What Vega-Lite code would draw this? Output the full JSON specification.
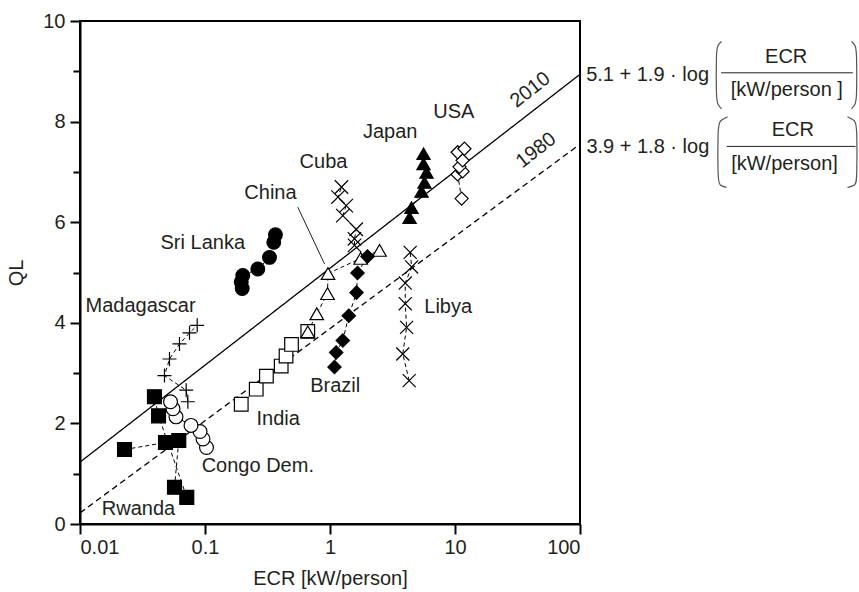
{
  "$schema": "https://vega.github.io/schema/vega-lite/v6.json",
  "width": 500,
  "height": 503,
  "autosize": {"type": "none"},
  "padding": {"left": 80, "top": 21, "right": 279, "bottom": 68},
  "background": "white",
  "config": {
    "font": "Liberation Sans",
    "view": {"stroke": "black", "strokeWidth": 2},
    "axis": {
      "grid": false,
      "domainColor": "black",
      "domainWidth": 2,
      "tickColor": "black",
      "tickWidth": 2,
      "labelColor": "#231f20",
      "labelFontSize": 20,
      "titleFontSize": 20,
      "titleFontWeight": "normal",
      "titleColor": "#231f20",
      "labelFont": "Liberation Sans",
      "titleFont": "Liberation Sans"
    },
    "text": {"font": "Liberation Sans", "fontSize": 20, "color": "#231f20"}
  },
  "datasets": {
    "reg": [
      {"line": "2010", "ecr": 0.01, "ql": 1.23},
      {"line": "2010", "ecr": 100, "ql": 8.94},
      {"line": "1980", "ecr": 0.01, "ql": 0.22},
      {"line": "1980", "ecr": 100, "ql": 7.55}
    ],
    "series": [
      {"country": "Madagascar", "t": 1, "ecr": 0.0729, "ql": 2.43},
      {"country": "Madagascar", "t": 2, "ecr": 0.0707, "ql": 2.66},
      {"country": "Madagascar", "t": 3, "ecr": 0.0474, "ql": 2.95},
      {"country": "Madagascar", "t": 4, "ecr": 0.052, "ql": 3.28},
      {"country": "Madagascar", "t": 5, "ecr": 0.0625, "ql": 3.58},
      {"country": "Madagascar", "t": 6, "ecr": 0.0752, "ql": 3.8},
      {"country": "Madagascar", "t": 7, "ecr": 0.0866, "ql": 3.95},
      {"country": "Rwanda", "t": 1, "ecr": 0.0227, "ql": 1.48},
      {"country": "Rwanda", "t": 2, "ecr": 0.0483, "ql": 1.62},
      {"country": "Rwanda", "t": 3, "ecr": 0.0617, "ql": 1.66},
      {"country": "Rwanda", "t": 4, "ecr": 0.057, "ql": 0.73},
      {"country": "Rwanda", "t": 5, "ecr": 0.0715, "ql": 0.53},
      {"country": "Rwanda", "t": 6, "ecr": 0.0425, "ql": 2.15},
      {"country": "Rwanda", "t": 7, "ecr": 0.0394, "ql": 2.53},
      {"country": "Congo Dem.", "t": 1, "ecr": 0.1028, "ql": 1.52},
      {"country": "Congo Dem.", "t": 2, "ecr": 0.0964, "ql": 1.69},
      {"country": "Congo Dem.", "t": 3, "ecr": 0.0912, "ql": 1.84},
      {"country": "Congo Dem.", "t": 4, "ecr": 0.0773, "ql": 1.96},
      {"country": "Congo Dem.", "t": 5, "ecr": 0.0586, "ql": 2.13},
      {"country": "Congo Dem.", "t": 6, "ecr": 0.0555, "ql": 2.29},
      {"country": "Congo Dem.", "t": 7, "ecr": 0.053, "ql": 2.43},
      {"country": "Sri Lanka", "t": 1, "ecr": 0.1985, "ql": 4.68},
      {"country": "Sri Lanka", "t": 2, "ecr": 0.195, "ql": 4.81},
      {"country": "Sri Lanka", "t": 3, "ecr": 0.2006, "ql": 4.94},
      {"country": "Sri Lanka", "t": 4, "ecr": 0.2645, "ql": 5.07},
      {"country": "Sri Lanka", "t": 5, "ecr": 0.328, "ql": 5.3},
      {"country": "Sri Lanka", "t": 6, "ecr": 0.355, "ql": 5.6},
      {"country": "Sri Lanka", "t": 7, "ecr": 0.366, "ql": 5.75},
      {"country": "India", "t": 1, "ecr": 0.195, "ql": 2.38},
      {"country": "India", "t": 2, "ecr": 0.257, "ql": 2.68},
      {"country": "India", "t": 3, "ecr": 0.31, "ql": 2.94},
      {"country": "India", "t": 4, "ecr": 0.407, "ql": 3.14},
      {"country": "India", "t": 5, "ecr": 0.445, "ql": 3.34},
      {"country": "India", "t": 6, "ecr": 0.492, "ql": 3.57},
      {"country": "India", "t": 7, "ecr": 0.664, "ql": 3.83},
      {"country": "China", "t": 1, "ecr": 0.664, "ql": 3.82},
      {"country": "China", "t": 2, "ecr": 0.784, "ql": 4.18},
      {"country": "China", "t": 3, "ecr": 0.955, "ql": 4.58},
      {"country": "China", "t": 4, "ecr": 0.964, "ql": 4.98},
      {"country": "China", "t": 5, "ecr": 1.76, "ql": 5.28},
      {"country": "China", "t": 6, "ecr": 2.49, "ql": 5.44},
      {"country": "Cuba", "t": 1, "ecr": 1.57, "ql": 5.54},
      {"country": "Cuba", "t": 2, "ecr": 1.57, "ql": 5.67},
      {"country": "Cuba", "t": 3, "ecr": 1.62, "ql": 5.86},
      {"country": "Cuba", "t": 4, "ecr": 1.266, "ql": 6.13},
      {"country": "Cuba", "t": 5, "ecr": 1.348, "ql": 6.33},
      {"country": "Cuba", "t": 6, "ecr": 1.159, "ql": 6.5},
      {"country": "Cuba", "t": 7, "ecr": 1.236, "ql": 6.7},
      {"country": "Brazil", "t": 1, "ecr": 1.086, "ql": 3.12},
      {"country": "Brazil", "t": 2, "ecr": 1.12, "ql": 3.41},
      {"country": "Brazil", "t": 3, "ecr": 1.266, "ql": 3.65},
      {"country": "Brazil", "t": 4, "ecr": 1.414, "ql": 4.14},
      {"country": "Brazil", "t": 5, "ecr": 1.63, "ql": 4.6},
      {"country": "Brazil", "t": 6, "ecr": 1.66, "ql": 4.99},
      {"country": "Brazil", "t": 7, "ecr": 1.995, "ql": 5.32},
      {"country": "Japan", "t": 1, "ecr": 4.33, "ql": 6.09},
      {"country": "Japan", "t": 2, "ecr": 4.49, "ql": 6.29},
      {"country": "Japan", "t": 3, "ecr": 5.4, "ql": 6.61},
      {"country": "Japan", "t": 4, "ecr": 5.7, "ql": 6.79},
      {"country": "Japan", "t": 5, "ecr": 5.92, "ql": 6.99},
      {"country": "Japan", "t": 6, "ecr": 5.6, "ql": 7.16},
      {"country": "Japan", "t": 7, "ecr": 5.6, "ql": 7.36},
      {"country": "USA", "t": 1, "ecr": 11.3, "ql": 6.47},
      {"country": "USA", "t": 2, "ecr": 10.5, "ql": 6.95},
      {"country": "USA", "t": 3, "ecr": 11.5, "ql": 7.01},
      {"country": "USA", "t": 4, "ecr": 10.86, "ql": 7.1},
      {"country": "USA", "t": 5, "ecr": 11.5, "ql": 7.23},
      {"country": "USA", "t": 6, "ecr": 10.5, "ql": 7.39},
      {"country": "USA", "t": 7, "ecr": 11.9, "ql": 7.46},
      {"country": "Libya", "t": 1, "ecr": 4.3, "ql": 2.85},
      {"country": "Libya", "t": 2, "ecr": 3.82, "ql": 3.38},
      {"country": "Libya", "t": 3, "ecr": 4.1, "ql": 3.91},
      {"country": "Libya", "t": 4, "ecr": 4.0, "ql": 4.38},
      {"country": "Libya", "t": 5, "ecr": 4.0, "ql": 4.79},
      {"country": "Libya", "t": 6, "ecr": 4.5, "ql": 5.11},
      {"country": "Libya", "t": 7, "ecr": 4.38, "ql": 5.4}
    ],
    "pointer": [
      {"ecr": 0.5525, "ql": 6.3},
      {"ecr": 0.904, "ql": 5.17}
    ],
    "labels": [
      {"label": "Madagascar", "ecr": 0.0305, "ql": 4.34},
      {"label": "Sri Lanka", "ecr": 0.096, "ql": 5.58},
      {"label": "China", "ecr": 0.334, "ql": 6.59},
      {"label": "Cuba", "ecr": 0.887, "ql": 7.19},
      {"label": "Japan", "ecr": 3.03, "ql": 7.79},
      {"label": "USA", "ecr": 9.78, "ql": 8.19},
      {"label": "Libya", "ecr": 8.82, "ql": 4.31},
      {"label": "Brazil", "ecr": 1.1, "ql": 2.75},
      {"label": "India", "ecr": 0.385, "ql": 2.09},
      {"label": "Congo Dem.", "ecr": 0.2645, "ql": 1.16},
      {"label": "Rwanda", "ecr": 0.0294, "ql": 0.3}
    ],
    "years": [
      {"label": "2010", "ecr": 40, "ql": 8.63},
      {"label": "1980", "ecr": 44.6, "ql": 7.43}
    ],
    "formulas": [
      {"label": "5.1 + 1.9 · log", "ecr": 112, "ql": 8.93},
      {"label": "3.9 + 1.8 · log", "ecr": 112.5, "ql": 7.5}
    ],
    "fractions": [
      {"label": "ECR", "ecr": 4462, "ql": 9.28},
      {"label": "[kW/person ]", "ecr": 4511, "ql": 8.635},
      {"label": "ECR", "ecr": 5039, "ql": 7.825},
      {"label": "[kW/person]", "ecr": 4325, "ql": 7.163}
    ],
    "bars": [
      {"ecr": 1347, "ecr2": 15218, "ql": 8.97},
      {"ecr": 1494, "ecr2": 15996, "ql": 7.507}
    ],
    "brackets": [
      {"b": "L1", "t": 1, "ecr": 1355, "ql": 9.596},
      {"b": "L1", "t": 2, "ecr": 1259, "ql": 9.517},
      {"b": "L1", "t": 3, "ecr": 1229, "ql": 9.377},
      {"b": "L1", "t": 4, "ecr": 1229, "ql": 8.482},
      {"b": "L1", "t": 5, "ecr": 1259, "ql": 8.343},
      {"b": "L1", "t": 6, "ecr": 1355, "ql": 8.253},
      {"b": "R1", "t": 1, "ecr": 14859, "ql": 9.596},
      {"b": "R1", "t": 2, "ecr": 15996, "ql": 9.517},
      {"b": "R1", "t": 3, "ecr": 16384, "ql": 9.377},
      {"b": "R1", "t": 4, "ecr": 16384, "ql": 8.482},
      {"b": "R1", "t": 5, "ecr": 15996, "ql": 8.343},
      {"b": "R1", "t": 6, "ecr": 14859, "ql": 8.253},
      {"b": "L2", "t": 1, "ecr": 1514, "ql": 8.094},
      {"b": "L2", "t": 2, "ecr": 1306, "ql": 8.024},
      {"b": "L2", "t": 3, "ecr": 1266, "ql": 7.885},
      {"b": "L2", "t": 4, "ecr": 1266, "ql": 6.831},
      {"b": "L2", "t": 5, "ecr": 1306, "ql": 6.731},
      {"b": "L2", "t": 6, "ecr": 1486, "ql": 6.691},
      {"b": "R2", "t": 1, "ecr": 13804, "ql": 8.094},
      {"b": "R2", "t": 2, "ecr": 15996, "ql": 8.024},
      {"b": "R2", "t": 3, "ecr": 16444, "ql": 7.885},
      {"b": "R2", "t": 4, "ecr": 16444, "ql": 6.831},
      {"b": "R2", "t": 5, "ecr": 15996, "ql": 6.731},
      {"b": "R2", "t": 6, "ecr": 13804, "ql": 6.691}
    ]
  },
  "encoding": {
    "x": {
      "field": "ecr",
      "type": "quantitative",
      "scale": {"type": "log", "domain": [0.01, 100], "nice": false},
      "axis": {
        "values": [0.01, 0.1, 1, 10, 100],
        "format": "~g",
        "title": "ECR [kW/person]",
        "tickSize": 10,
        "labelPadding": 3,
        "titlePadding": 11
      }
    },
    "y": {
      "field": "ql",
      "type": "quantitative",
      "scale": {"domain": [0, 10], "nice": false, "zero": false},
      "axis": {
        "values": [0, 1, 2, 3, 4, 5, 6, 7, 8, 9, 10],
        "labelExpr": "datum.value % 2 === 0 ? datum.label : ''",
        "tickSize": {"condition": {"test": "datum.value % 2 === 1", "value": 7}, "value": 10},
        "labelPadding": 5,
        "title": "QL",
        "titlePadding": 16
      }
    }
  },
  "layer": [
    {
      "data": {"name": "reg"},
      "mark": {"type": "line", "color": "black", "strokeWidth": 1.3},
      "encoding": {
        "detail": {"field": "line"},
        "strokeDash": {"field": "line", "type": "nominal", "scale": {"domain": ["2010", "1980"], "range": [[1, 0], [6, 4]]}, "legend": null}
      }
    },
    {
      "data": {"name": "series"},
      "mark": {"type": "line", "color": "black", "strokeWidth": 1, "strokeDash": [4, 3]},
      "encoding": {
        "detail": {"field": "country"},
        "order": {"field": "t", "type": "quantitative"}
      }
    },
    {
      "data": {"name": "pointer"},
      "mark": {"type": "line", "color": "#231f20", "strokeWidth": 1},
      "encoding": {}
    },
    {
      "data": {"name": "series"},
      "mark": {"type": "point", "stroke": "black", "strokeWidth": 1.2, "opacity": 1, "fillOpacity": 1},
      "encoding": {
        "shape": {
          "field": "country", "type": "nominal", "legend": null,
          "scale": {
            "domain": ["Madagascar", "Rwanda", "Congo Dem.", "Sri Lanka", "India", "China", "Cuba", "Brazil", "Japan", "USA", "Libya"],
            "range": ["M-1,0L1,0M0,-1L0,1", "square", "circle", "circle", "square", "triangle-up", "M-1,-1L1,1M-1,1L1,-1", "diamond", "triangle-up", "diamond", "M-1,-1L1,1M-1,1L1,-1"]
          }
        },
        "fill": {
          "field": "country", "type": "nominal", "legend": null,
          "scale": {
            "domain": ["Madagascar", "Rwanda", "Congo Dem.", "Sri Lanka", "India", "China", "Cuba", "Brazil", "Japan", "USA", "Libya"],
            "range": ["white", "black", "white", "black", "white", "white", "white", "black", "black", "white", "white"]
          }
        },
        "size": {
          "field": "country", "type": "nominal", "legend": null,
          "scale": {
            "domain": ["Madagascar", "Rwanda", "Congo Dem.", "Sri Lanka", "India", "China", "Cuba", "Brazil", "Japan", "USA", "Libya"],
            "range": [196, 170, 180, 180, 180, 200, 144, 225, 220, 150, 144]
          }
        }
      }
    },
    {
      "data": {"name": "labels"},
      "mark": {"type": "text", "align": "center", "baseline": "middle"},
      "encoding": {"text": {"field": "label"}}
    },
    {
      "data": {"name": "years"},
      "mark": {"type": "text", "align": "center", "baseline": "middle", "angle": 322},
      "encoding": {"text": {"field": "label"}}
    },
    {
      "data": {"name": "formulas"},
      "mark": {"type": "text", "align": "left", "baseline": "middle"},
      "encoding": {"text": {"field": "label"}}
    },
    {
      "data": {"name": "fractions"},
      "mark": {"type": "text", "align": "center", "baseline": "middle"},
      "encoding": {"text": {"field": "label"}}
    },
    {
      "data": {"name": "bars"},
      "mark": {"type": "rule", "color": "#231f20", "strokeWidth": 1},
      "encoding": {"x2": {"field": "ecr2"}}
    },
    {
      "data": {"name": "brackets"},
      "mark": {"type": "line", "color": "#555555", "strokeWidth": 1.2, "interpolate": "basis"},
      "encoding": {
        "detail": {"field": "b"},
        "order": {"field": "t", "type": "quantitative"}
      }
    }
  ]
}
